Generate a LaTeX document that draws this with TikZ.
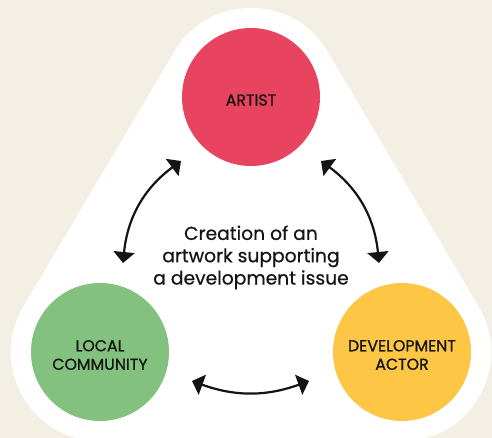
\documentclass[tikz,border=0pt]{standalone}
\usepackage{fontspec}
\setmainfont{Poppins}
\newfontfamily\popmain{Poppins}[FakeBold=0.5]
\newfontfamily\poplabel{Poppins}[FakeBold=0.9]
\usetikzlibrary{arrows.meta}
\definecolor{bgbeige}{RGB}{243,239,228}
\definecolor{artistred}{RGB}{232,67,95}
\definecolor{localgreen}{RGB}{131,194,126}
\definecolor{actoryellow}{RGB}{253,199,69}
\definecolor{inkblack}{RGB}{20,20,20}
\tikzset{
  actor/.style={circle, minimum size=138pt, inner sep=0pt},
  actorlabel/.style={align=center, inner sep=0pt,
    font=\poplabel\fontsize{15.8}{18.5}\selectfont, text=inkblack},
  link/.style={line width=2.2pt, draw=inkblack,
    {Triangle[length=11pt,width=21pt]}-{Triangle[length=11pt,width=21pt]}},
  maintext/.style={align=center, font=\popmain\fontsize{18.7}{22.3}\selectfont, text=inkblack, inner sep=0pt}
}
\begin{document}
\begin{tikzpicture}[x=1pt,y=-1pt]
\useasboundingbox (0,0) rectangle (492,438);
\fill[bgbeige] (0,0) rectangle (492,438);
\begin{scope}
\clip (0,0) rectangle (492,438);
\fill[white] (251,97) -- (100,352) -- (402,352) -- cycle;
\draw[white, line width=178pt, line join=round] (251,97) -- (100,352) -- (402,352) -- cycle;
\end{scope}
\node[actor, fill=artistred] (artist) at (251,97) {};
\node[actor, fill=localgreen] (local) at (100,352) {};
\node[actor, fill=actoryellow] (devactor) at (402,352) {};
\node[actorlabel] (artistlabel) at ([yshift=-3pt]artist.center) {ARTIST};
\node[actorlabel] (locallabel) at ([yshift=-3pt]local.center) {LOCAL\\COMMUNITY};
\node[actorlabel] (devactorlabel) at ([yshift=-3pt]devactor.center) {DEVELOPMENT\\ACTOR};
\node[maintext] (issue) at (251,257.5) {Creation of an\\artwork supporting\\a development issue};
\coordinate (la) at (123,263);
\coordinate (lb) at (181,161);
\coordinate (ra) at (321,161);
\coordinate (rb) at (379,263);
\coordinate (ba) at (192,381);
\coordinate (bb) at (309,381);
\draw[link] (la) to[bend left=24] (lb);
\draw[link] (ra) to[bend left=24] (rb);
\draw[link] (ba) to[bend right=20] (bb);
\end{tikzpicture}
\end{document}
